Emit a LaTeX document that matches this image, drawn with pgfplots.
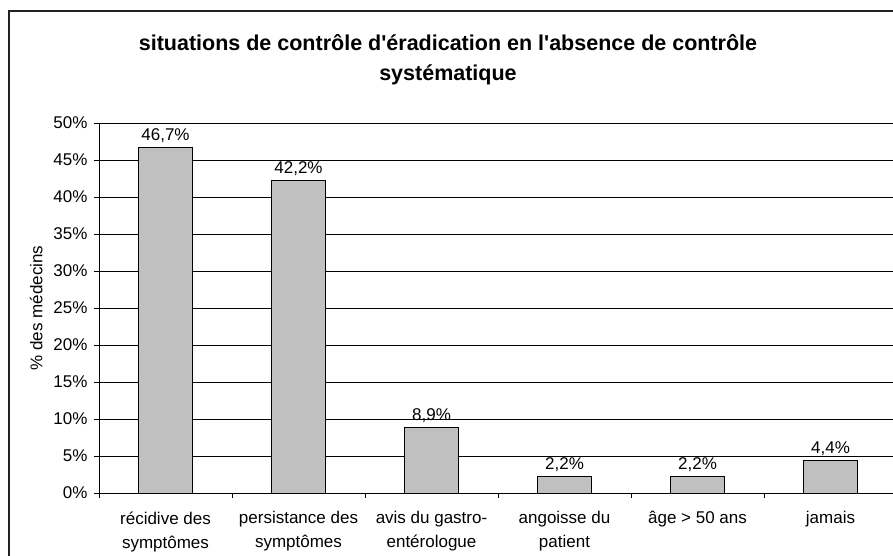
\documentclass[border=0pt]{standalone}
\usepackage{fontspec}
\setmainfont{Liberation Sans}[Ligatures=TeXOff]
\usepackage{pgfplots}
\pgfplotsset{compat=1.18}
\definecolor{barfill}{HTML}{C0C0C0}
\definecolor{frame}{HTML}{222222}
\begin{document}
\begin{tikzpicture}[x=1pt,y=1pt]
\useasboundingbox (0,0) rectangle (893,556);
\clip (0,0) rectangle (893,556);
\fill[white] (0,0) rectangle (893,556);
\draw[line width=1.6pt, frame] (9,-20) rectangle (920,545);
\node[font=\fontsize{21.5}{30}\selectfont\bfseries, align=center, anchor=north, inner sep=0pt]
  at (448,522) {situations de contrôle d'éradication en l'absence de contrôle\\systématique};
\begin{axis}[
  at={(99pt,63pt)}, anchor=south west,
  scale only axis, width=798pt, height=370pt,
  xmin=-0.5, xmax=5.5, ymin=0, ymax=50,
  ybar, bar width=0.4,
  axis x line*=bottom, axis y line*=left,
  axis line style={black, line width=0.9pt},
  xtick={0,1,2,3,4,5},
  xticklabels={{récidive des\\symptômes},{persistance des\\symptômes},{avis du gastro-\\entérologue},{angoisse du\\patient},{âge > 50 ans},{jamais}},
  minor xtick={-0.5,0.5,1.5,2.5,3.5,4.5,5.5},
  major x tick style={draw=none},
  minor tick length=5pt,
  ytick={0,5,...,50},
  major tick length=5pt,
  tick align=outside,
  tick style={black, line width=0.9pt},
  yticklabel={\pgfmathprintnumber{\tick}\%},
  /pgf/number format/assume math mode=true,
  ymajorgrids, grid style={black, line width=0.9pt},
  tick label style={font=\fontsize{17}{24}\selectfont},
  xticklabel style={align=center, anchor=north, yshift=-10pt},
  yticklabel style={xshift=-3pt},
  ylabel={\% des médecins},
  ylabel style={font=\fontsize{17}{20}\selectfont, yshift=4pt},
  nodes near coords={\pgfmathprintnumber[fixed,fixed zerofill,precision=1,use comma]{\pgfplotspointmeta}\%},
  every node near coord/.append style={font=\fontsize{17}{20}\selectfont, anchor=base, yshift=7pt},
]
\addplot[fill=barfill, draw=black, line width=0.9pt] coordinates {(0,46.7) (1,42.2) (2,8.9) (3,2.2) (4,2.2) (5,4.4)};
\end{axis}
\end{tikzpicture}
\end{document}
